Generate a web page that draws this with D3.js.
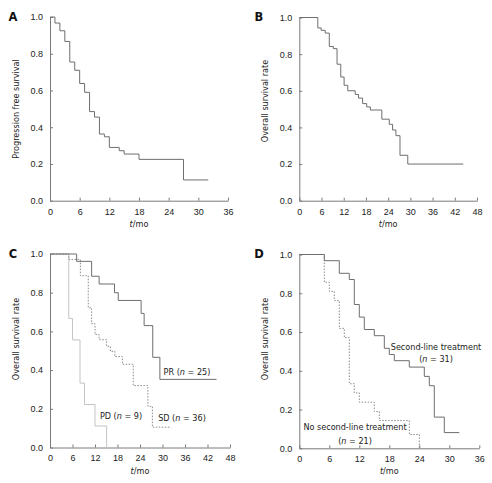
<!DOCTYPE html>
<html>
<head>
<meta charset="utf-8">
<script src="https://cdn.jsdelivr.net/npm/d3@7"></script>
<style>
body{margin:0;background:#fff;}
svg{display:block;font-family:"DejaVu Sans",Verdana,sans-serif;font-stretch:condensed;}
</style>
</head>
<body>
<svg id="chart" width="492" height="483"></svg>
<script>
// ---- Data ----
const timesA = [0,1,2,3,4,5,6,7,8,9,10,11,12,14,15,18,27,32];
const survA  = [1,0.967,0.925,0.867,0.755,0.71,0.638,0.59,0.485,0.455,0.363,0.348,0.29,0.272,0.254,0.225,0.113,0.113];

const timesB = [0,5,5.9,7,8.1,9.2,10.2,11.2,12.1,13.1,15.1,16,17.1,18.2,19.2,22.3,24.3,25.2,26.1,27.2,29.3,44.3];
const survB  = [1,0.943,0.93,0.915,0.842,0.83,0.745,0.675,0.63,0.6,0.58,0.56,0.53,0.512,0.495,0.445,0.417,0.386,0.355,0.248,0.2,0.2];

const timesPR = [0,7.1,11.1,13.1,17.2,18.2,24.3,25.1,27.4,29.3,44.4];
const survPR  = [1,0.962,0.885,0.845,0.8,0.76,0.693,0.63,0.466,0.352,0.352];
const timesSD = [0,5,8.1,10.2,11.1,12,13.1,15.1,16.1,17.3,19.3,22.2,26.1,27.3,32.3];
const survSD  = [1,0.972,0.888,0.722,0.64,0.584,0.557,0.523,0.497,0.47,0.43,0.32,0.213,0.105,0.105];
const timesPD = [0,5,6,8,9.2,12,15.1];
const survPD  = [1,0.667,0.556,0.333,0.222,0.111,0];

const timesSecond = [0,5,8,10,11,12,13,15,17,18,19,22,25,26,27,29,32];
const survSecond  = [1,0.968,0.903,0.871,0.742,0.677,0.613,0.581,0.516,0.484,0.452,0.419,0.371,0.323,0.161,0.081,0.081];
const timesNo = [0,5,6,7,8,9,10,11,12,15,16,22,24];
const survNo  = [1,0.857,0.81,0.762,0.619,0.571,0.333,0.286,0.238,0.19,0.143,0.071,0];

const yTicks = [0,0.2,0.4,0.6,0.8,1.0];
const xTicks36 = [0,6,12,18,24,30,36];
const xTicks48 = [0,6,12,18,24,30,36,42,48];
const panelLetters = ["A","B","C","D"];
const yTitles = ["Progression free survival","Overall survival rate","Overall survival rate","Overall survival rate"];

// ---- Drawing ----
const svg = d3.select("#chart");
const txt = "#222";
const axisCol = "#7a7a7a";

const panels = [
  {letter:panelLetters[0], x0:50, x1:228, y0:17, y1:200.7, xmax:36, ticks:xTicks36, ytitle:yTitles[0], ytc:109, lx:13, ly:17,
   series:[{t:timesA,s:survA,color:"#6e6e6e",dash:null}]},
  {letter:panelLetters[1], x0:299.3, x1:477, y0:17.5, y1:200.7, xmax:48, ticks:xTicks48, ytitle:yTitles[1], ytc:101, lx:259, ly:17,
   series:[{t:timesB,s:survB,color:"#6e6e6e",dash:null}]},
  {letter:panelLetters[2], x0:50, x1:230, y0:254, y1:447.5, xmax:48, ticks:xTicks48, ytitle:yTitles[2], ytc:339, lx:13, ly:254,
   series:[{t:timesPD,s:survPD,color:"#c4c4c4",dash:null},
           {t:timesSD,s:survSD,color:"#8a8a8a",dash:"1.5,1.5"},
           {t:timesPR,s:survPR,color:"#6e6e6e",dash:null}],
   labels:[{text:["PR (",{i:"n"}," = 25)"],x:187,y:372},
           {text:["SD (",{i:"n"}," = 36)"],x:182,y:418},
           {text:["PD (",{i:"n"}," = 9)"],x:121,y:416}]},
  {letter:panelLetters[3], x0:299.3, x1:479.3, y0:254.5, y1:448.3, xmax:36, ticks:xTicks36, ytitle:yTitles[3], ytc:339, lx:259, ly:254,
   series:[{t:timesNo,s:survNo,color:"#8a8a8a",dash:"1.5,1.5"},
           {t:timesSecond,s:survSecond,color:"#6e6e6e",dash:null}],
   labels:[{text:["Second-line treatment"],x:436,y:347},
           {text:["(",{i:"n"}," = 31)"],x:436,y:359},
           {text:["No second-line treatment"],x:355,y:427},
           {text:["(",{i:"n"}," = 21)"],x:355,y:441}]}
];

const fs = 9;

panels.forEach(p => {
  const x = d3.scaleLinear().domain([0,p.xmax]).range([p.x0,p.x1]);
  const y = d3.scaleLinear().domain([0,1]).range([p.y1,p.y0]);
  const g = svg.append("g");

  const xa = g.append("g").attr("transform",`translate(0,${p.y1})`)
    .call(d3.axisBottom(x).tickValues(p.ticks).tickSizeInner(-3).tickSizeOuter(0).tickPadding(7.5).tickFormat(d3.format("d")));
  const ya = g.append("g").attr("transform",`translate(${p.x0},0)`)
    .call(d3.axisLeft(y).tickValues(yTicks).tickSizeInner(-3).tickSizeOuter(0).tickPadding(7).tickFormat(d3.format(".1f")));
  [xa,ya].forEach(a=>{
    a.select(".domain").attr("stroke",axisCol).attr("stroke-width",1);
    a.selectAll(".tick line").attr("stroke",axisCol);
    a.selectAll(".tick text").attr("fill",txt).attr("font-size",fs).attr("font-family",null);
  });

  // x title
  const xt = g.append("text").attr("x",(p.x0+p.x1)/2).attr("y",p.y1+26).attr("text-anchor","middle")
    .attr("font-size",fs).attr("fill",txt);
  xt.append("tspan").attr("font-style","italic").text("t");
  xt.append("tspan").text("/mo");

  // y title
  g.append("text").attr("transform",`translate(${p.x0-31},${p.ytc}) rotate(-90)`)
    .attr("text-anchor","middle").attr("font-size",fs).attr("fill",txt).text(p.ytitle);

  // letter
  g.append("text").attr("x",p.lx).attr("y",p.ly).attr("dy","0.36em").attr("text-anchor","middle")
    .attr("font-size",11.5).attr("font-weight","bold").attr("fill","#111").style("font-stretch","normal").text(p.letter);

  const line = d3.line().x(d=>x(d[0])).y(d=>y(d[1])).curve(d3.curveStepAfter);
  p.series.forEach(s => {
    const pts = s.t.map((t,i)=>[t,s.s[i]]);
    g.append("path").attr("d",line(pts)).attr("fill","none").attr("stroke",s.color)
      .attr("stroke-width",1).attr("stroke-dasharray",s.dash);
  });

  (p.labels||[]).forEach(l => {
    const t = g.append("text").attr("x",l.x).attr("y",l.y).attr("dy","0.35em").attr("text-anchor","middle")
      .attr("font-size",fs).attr("fill",txt);
    l.text.forEach(part => {
      if (typeof part === "string") t.append("tspan").text(part);
      else t.append("tspan").attr("font-style","italic").text(part.i);
    });
  });
});
</script>
</body>
</html>
